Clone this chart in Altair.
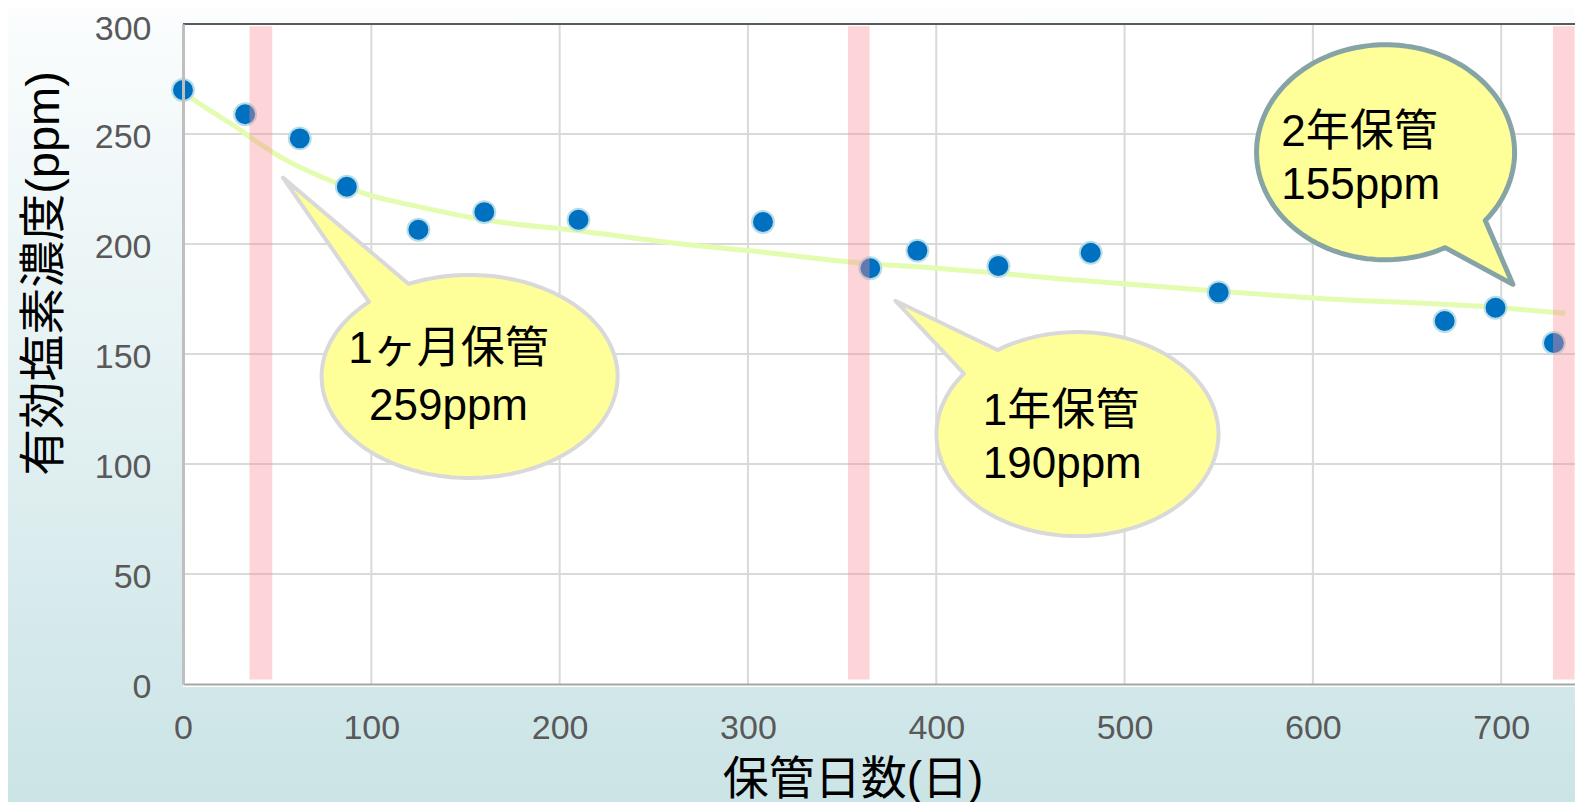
import math
import altair as alt
import pandas as pd

# ---------------- data ----------------
days = [0, 33, 62, 87, 125, 160, 210, 308, 365, 390, 433, 482, 550, 670, 697, 728]
ppm = [270, 259, 248, 226, 206.5, 214.5, 211, 210, 189, 197, 190, 196, 178, 165, 171, 155]

trend_days = [0, 12, 25, 40, 55, 75, 100, 125, 160, 210, 260, 300, 365, 400, 476, 550, 600, 700, 734]
trend_ppm = [269, 262, 255, 246, 238, 230, 222, 217, 211, 206, 200.5, 197, 191, 189, 183.5, 178.5, 175.5, 171, 168.5]

band_start = [35.3, 353.1, 727.5]
band_end = [47.4, 364.6, 739.0]
band_low = [2, 2, 2]
band_high = [299, 299, 299]

x_ticks = [0, 100, 200, 300, 400, 500, 600, 700]
y_ticks = [0, 50, 100, 150, 200, 250, 300]
x_grid = [100, 200, 300, 400, 500, 600, 700]
y_grid = [50, 100, 150, 200, 250]
y_top = [300]

callout_text = ["1ヶ月保管\n259ppm", "1年保管\n190ppm", "2年保管\n155ppm"]
callout_day = [141.0, 424.7, 583.2]
callout_level = [145.8, 117.7, 244.7]
bubble_day = [152.2, 475.0, 638.6]
bubble_level = [139.8, 113.6, 241.7]

# ---------------- layout / style ----------------
W, H = 1392, 660
PAD = {"left": 175, "top": 16, "right": 0, "bottom": 118}
FONT = "Liberation Sans, Noto Sans CJK JP, sans-serif"
XMAX = 739.2

xs = alt.Scale(domain=[0, XMAX], nice=False, zero=False)
ys = alt.Scale(domain=[0, 300], nice=False)

xaxis = alt.Axis(
    values=x_ticks, grid=False, ticks=False, tickSize=0,
    domainColor="#a6a6a6", domainWidth=2,
    labelFont=FONT, labelFontSize=34, labelColor="#595959", labelPadding=27,
    labelFlush=False, labelOverlap=False,
    title="保管日数(日)", titleFont=FONT, titleFontSize=46, titleFontWeight="normal",
    titleColor="#000000", titleX=669.5, titleY=95, titleAlign="center",
    titleBaseline="middle", titleAnchor="start", zindex=1)
yaxis = alt.Axis(
    values=y_ticks, grid=False, ticks=False, tickSize=0,
    domainColor="#bfbfbf", domainWidth=3,
    labelFont=FONT, labelFontSize=34, labelColor="#595959", labelPadding=32,
    labelOffset={"condition": {"test": "datum.value === 300", "value": 5}, "value": 3},
    labelFlush=False, labelOverlap=False,
    title="有効塩素濃度(ppm)", titleFont=FONT, titleFontSize=47, titleFontWeight="normal",
    titleColor="#000000", titleAngle=270, titleX=-139, titleY=249, titleAlign="center",
    titleBaseline="middle", titleAnchor="start", zindex=1)

# bubble geometry in pixels: rx, ry, base angles, tip offset, stroke colour/width
bubble_geo = [
    dict(rx=148, ry=101.5, ta=-132.8, tb=-114.3, tip=(-186.7, -198.8), stroke="#d9d9d9", sw=4),
    dict(rx=141, ry=102, ta=-143.6, tb=-124.5, tip=(-182, -133.3), stroke="#d9d9d9", sw=4),
    dict(rx=129, ry=107.5, ta=39.4, tb=62.5, tip=(127.3, 132.1), stroke="#86a4a6", sw=5),
]
callout_style = [
    dict(align="center", lh=57),
    dict(align="left", lh=53),
    dict(align="left", lh=53),
]


def bubble_path(rx, ry, ta, tb, tip):
    start, end = tb, ta + 360
    n = int((end - start) / 2) + 1
    pts = []
    for i in range(n + 1):
        t = math.radians(start + (end - start) * i / n)
        pts.append((rx * math.cos(t), ry * math.sin(t)))
    pts.append(tip)
    d = "M{:.1f} {:.1f}".format(*pts[0])
    for x, y in pts[1:]:
        d += "L{:.1f} {:.1f}".format(x, y)
    return d + "Z"


def X(field):
    return alt.X(field, scale=xs, axis=xaxis)


def Y(field):
    return alt.Y(field, scale=ys, axis=yaxis)


one = pd.DataFrame({"k": [0]})

bg = alt.Chart(one).mark_rect(
    fill=alt.LinearGradient(
        gradient="linear",
        stops=[alt.GradientStop(offset=0, color="#fbfdfe"),
               alt.GradientStop(offset=1, color="#cbe4e6")],
        x1=0, x2=0, y1=0, y2=1,
    ),
    clip=False,
).encode(x=alt.value(-PAD["left"]), x2=alt.value(W), y=alt.value(-PAD["top"]),
         y2=alt.value(H + PAD["bottom"]))

plot_bg = alt.Chart(one).mark_rect(fill="#ffffff").encode(
    x=alt.value(0), x2=alt.value(W), y=alt.value(0), y2=alt.value(H + 3))

vgrid = alt.Chart(pd.DataFrame({"gx": x_grid})).mark_rule(color="#d9d9d9", strokeWidth=2).encode(
    x=X("gx:Q"), y=alt.value(0), y2=alt.value(H))
hgrid = alt.Chart(pd.DataFrame({"gy": y_grid})).mark_rule(color="#d9d9d9", strokeWidth=2).encode(
    y=Y("gy:Q"), x=alt.value(0), x2=alt.value(W))
top_line = alt.Chart(pd.DataFrame({"gy": y_top})).mark_rule(color="#595959", strokeWidth=2).encode(
    y=Y("gy:Q"), x=alt.value(0), x2=alt.value(W))

trend = alt.Chart(pd.DataFrame({"d": trend_days, "v": trend_ppm})).mark_line(
    color="#e3fcb0", strokeWidth=5, interpolate="monotone", clip=False
).encode(x=X("d:Q"), y=Y("v:Q"))

points = alt.Chart(pd.DataFrame({"day": days, "ppm": ppm})).mark_point(
    filled=True, size=480, fill="#0070c0", stroke="#b7dde6", strokeWidth=2, opacity=1
).encode(x=X("day:Q"), y=Y("ppm:Q"))

bands = alt.Chart(pd.DataFrame({"s": band_start, "e": band_end, "lo": band_low, "hi": band_high})).mark_rect(
    color="#fa8e96", opacity=0.38
).encode(x=X("s:Q"), x2="e:Q", y=Y("lo:Q"), y2="hi:Q")

layers = [bg, plot_bg, vgrid, hgrid, top_line, trend, points, bands]

for i in range(3):
    g = bubble_geo[i]
    path = bubble_path(g["rx"], g["ry"], g["ta"], g["tb"], g["tip"])
    b = alt.Chart(pd.DataFrame({"bx": [bubble_day[i]], "by": [bubble_level[i]]})).mark_point(
        shape=path, size=4, filled=True, fill="#ffff99", stroke=g["stroke"],
        strokeWidth=g["sw"], strokeJoin="round", opacity=1, clip=False
    ).encode(x=X("bx:Q"), y=Y("by:Q"))
    layers.append(b)

for i in range(3):
    st = callout_style[i]
    t = alt.Chart(pd.DataFrame({"tx": [callout_day[i]], "ty": [callout_level[i]],
                                "txt": [callout_text[i]]})).mark_text(
        font=FONT, fontSize=44, color="#000000", align=st["align"], baseline="alphabetic",
        lineBreak="\n", lineHeight=st["lh"]
    ).encode(x=X("tx:Q"), y=Y("ty:Q"), text="txt:N")
    layers.append(t)

chart = alt.layer(*layers).properties(
    width=W, height=H, padding=PAD, autosize=alt.AutoSizeParams(type="none")
).configure_view(stroke=None)

chart.save("out.html", embed_options={"renderer": "svg", "actions": False})
